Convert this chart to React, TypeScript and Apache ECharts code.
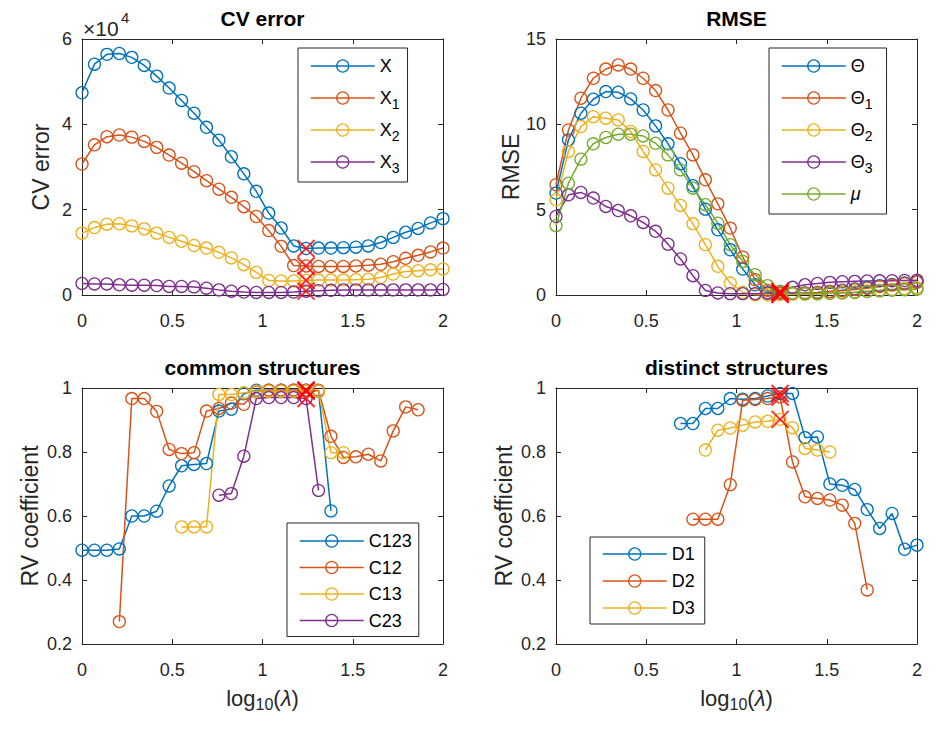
import React, { useEffect, useRef } from "react";
import * as echarts from "echarts";

const FONT = "'Liberation Sans', Arial, Helvetica, sans-serif";
const AXIS_COLOR = "#262626";
const BLUE = "#0072BD";
const ORANGE = "#D95319";
const YELLOW = "#EDB120";
const PURPLE = "#7E2F8E";
const GREEN = "#77AC30";
const MARK_RED = "#FF0000";

// log10(lambda) grid shared by every panel
const logLambda = [
  0, 0.069, 0.1379, 0.2069, 0.2759, 0.3448, 0.4138, 0.4828, 0.5517, 0.6207,
  0.6897, 0.7586, 0.8276, 0.8966, 0.9655, 1.0345, 1.1034, 1.1724, 1.2414, 1.3103,
  1.3793, 1.4483, 1.5172, 1.5862, 1.6552, 1.7241, 1.7931, 1.8621, 1.931, 2,
];
// index of the chosen lambda (red crosses)
const selectedIdx = 18;

// CV error
const cvX = [
  47400, 54100, 56400, 56600, 55700, 53800, 51300, 48500, 45600, 42600,
  39300, 36300, 32400, 28400, 24300, 19200, 15700, 11500, 10900, 11000,
  11000, 11100, 11200, 11500, 12300, 13500, 14700, 15600, 16900, 17900,
];
const cvX1 = [
  30700, 35200, 37100, 37500, 37000, 36000, 34600, 32800, 30900, 28900,
  26800, 24800, 22900, 20700, 18400, 15100, 11400, 6900, 6800, 6700,
  6700, 6700, 6800, 7000, 7200, 7800, 8600, 9300, 10100, 11000,
];
const cvX2 = [
  14500, 15800, 16600, 16700, 16200, 15500, 14500, 13500, 12600, 11600,
  11000, 10000, 8700, 7100, 5300, 3400, 3300, 3300, 3400, 3500,
  3500, 3500, 3600, 3700, 4100, 4900, 5500, 5700, 5900, 6100,
];
const cvX3 = [
  2700, 2600, 2600, 2400, 2300, 2300, 2200, 2000, 2000, 1900,
  1600, 1200, 900, 700, 600, 600, 600, 700, 900, 1000,
  1100, 1200, 1200, 1200, 1200, 1200, 1200, 1200, 1200, 1300,
];

// RMSE
const rmseTheta = [
  5.97, 9.09, 10.65, 11.47, 11.92, 11.88, 11.49, 10.84, 9.91, 8.86,
  7.69, 6.4, 5.03, 3.82, 2.65, 1.52, 0.6, 0.12, 0.08, 0.1,
  0.12, 0.15, 0.2, 0.28, 0.36, 0.45, 0.55, 0.62, 0.7, 0.78,
];
const rmseTheta1 = [
  6.46, 9.67, 11.53, 12.7, 13.24, 13.48, 13.24, 12.7, 11.98, 10.84,
  9.48, 8.21, 6.75, 5.34, 3.92, 2.22, 0.9, 0.27, 0.12, 0.1,
  0.12, 0.15, 0.2, 0.25, 0.32, 0.4, 0.5, 0.58, 0.66, 0.75,
];
const rmseTheta2 = [
  5.58, 8.41, 9.87, 10.45, 10.36, 10.26, 9.58, 8.41, 7.33, 6.26,
  5.25, 4.17, 2.95, 1.68, 0.7, 0.16, 0.02, 0.02, 0.03, 0.05,
  0.05, 0.07, 0.1, 0.14, 0.18, 0.23, 0.28, 0.33, 0.38, 0.43,
];
const rmseTheta3 = [
  4.6, 5.87, 6.01, 5.68, 5.19, 4.95, 4.64, 4.25, 3.73, 2.98,
  2.11, 1.13, 0.27, 0.12, 0.08, 0.08, 0.08, 0.12, 0.2, 0.45,
  0.6, 0.68, 0.74, 0.78, 0.8, 0.82, 0.83, 0.84, 0.85, 0.86,
];
const rmseMu = [
  4.06, 6.55, 7.96, 8.86, 9.23, 9.42, 9.42, 9.32, 8.89, 8.21,
  7.33, 6.26, 5.29, 4.21, 2.95, 1.97, 1.19, 0.55, 0.2, 0.1,
  0.08, 0.08, 0.1, 0.12, 0.15, 0.2, 0.24, 0.28, 0.31, 0.34,
];

// RV coefficients, common structures (null = component not estimated)
const rvC123 = [
  0.493, 0.493, 0.493, 0.497, 0.6, 0.6, 0.615, 0.694, 0.757, 0.761,
  0.764, 0.928, 0.934, 0.982, 0.993, 0.993, 0.993, 0.993, 0.993, 0.99,
  0.616, null, null, null, null, null, null, null, null, null,
];
const rvC12 = [
  null, null, null, 0.27, 0.967, 0.967, 0.927, 0.808, 0.795, 0.798,
  0.928, 0.936, 0.953, 0.949, 0.988, 0.993, 0.993, 0.993, 0.993, 0.993,
  0.849, 0.783, 0.785, 0.793, 0.772, 0.866, 0.941, 0.932, null, null,
];
const rvC13 = [
  null, null, null, null, null, null, null, null, 0.566, 0.566,
  0.566, 0.98, 0.98, 0.985, 0.99, 0.99, 0.99, 0.99, 0.99, 0.99,
  0.798, 0.798, null, null, null, null, null, null, null, null,
];
const rvC23 = [
  null, null, null, null, null, null, null, null, null, null,
  null, 0.665, 0.67, 0.787, 0.967, 0.97, 0.97, 0.97, 0.967, 0.68,
  null, null, null, null, null, null, null, null, null, null,
];

// RV coefficients, distinct structures
const rvD1 = [
  null, null, null, null, null, null, null, null, null, null,
  0.889, 0.889, 0.936, 0.936, 0.967, 0.965, 0.967, 0.975, 0.983, 0.983,
  0.845, 0.847, 0.7, 0.696, 0.683, 0.62, 0.561, 0.608, 0.496, 0.509,
];
const rvD2 = [
  null, null, null, null, null, null, null, null, null, null,
  null, 0.59, 0.59, 0.59, 0.698, 0.962, 0.964, 0.967, 0.972, 0.769,
  0.66, 0.655, 0.65, 0.634, 0.577, 0.369, null, null, null, null,
];
const rvD3 = [
  null, null, null, null, null, null, null, null, null, null,
  null, null, 0.806, 0.868, 0.875, 0.884, 0.894, 0.896, 0.902, 0.876,
  0.811, 0.806, 0.8, null, null, null, null, null, null, null,
];

type SeriesDef = { name: string; values: (number | null)[]; color: string };
type PanelDef = {
  title: string;
  yName: string;
  yMin: number;
  yMax: number;
  yInterval: number;
  yFormat?: (v: number) => string;
  xName?: boolean;
  yNameGap: number;
  series: SeriesDef[];
};

const panels: PanelDef[] = [
  {
    title: "CV error",
    yName: "CV error",
    yMin: 0,
    yMax: 60000,
    yInterval: 20000,
    yFormat: (v) => String(v / 10000),
    yNameGap: 30,
    series: [
      { name: "X", values: cvX, color: BLUE },
      { name: "X1", values: cvX1, color: ORANGE },
      { name: "X2", values: cvX2, color: YELLOW },
      { name: "X3", values: cvX3, color: PURPLE },
    ],
  },
  {
    title: "RMSE",
    yName: "RMSE",
    yMin: 0,
    yMax: 15,
    yInterval: 5,
    yNameGap: 34,
    series: [
      { name: "Θ", values: rmseTheta, color: BLUE },
      { name: "Θ1", values: rmseTheta1, color: ORANGE },
      { name: "Θ2", values: rmseTheta2, color: YELLOW },
      { name: "Θ3", values: rmseTheta3, color: PURPLE },
      { name: "μ", values: rmseMu, color: GREEN },
    ],
  },
  {
    title: "common structures",
    yName: "RV coefficient",
    yMin: 0.2,
    yMax: 1,
    yInterval: 0.2,
    xName: true,
    yNameGap: 41,
    series: [
      { name: "C123", values: rvC123, color: BLUE },
      { name: "C12", values: rvC12, color: ORANGE },
      { name: "C13", values: rvC13, color: YELLOW },
      { name: "C23", values: rvC23, color: PURPLE },
    ],
  },
  {
    title: "distinct structures",
    yName: "RV coefficient",
    yMin: 0.2,
    yMax: 1,
    yInterval: 0.2,
    xName: true,
    yNameGap: 41,
    series: [
      { name: "D1", values: rvD1, color: BLUE },
      { name: "D2", values: rvD2, color: ORANGE },
      { name: "D3", values: rvD3, color: YELLOW },
    ],
  },
];

// plot-area placement of the 2x2 layout
const GRIDS = [
  { left: 82, top: 39 },
  { left: 556, top: 39 },
  { left: 82, top: 388 },
  { left: 556, top: 388 },
];
const GRID_W = 361;
const GRID_H = 256;

// legend boxes
const LEGENDS = [
  { left: 298, top: 48, padding: [5, 8, 7, 12], itemGap: 6, lineHeight: 26 },
  { left: 769, top: 48, padding: [5, 14, 7, 12], itemGap: 6, lineHeight: 26 },
  { left: 287, top: 523, padding: [8, 7, 6, 12], itemGap: 6.5, lineHeight: 20 },
  { left: 590, top: 537, padding: [7, 10, 6, 12], itemGap: 7, lineHeight: 20 },
];

const subscriptLabel = (name: string) => {
  if (name === "μ") return "{it|μ}";
  const m = name.match(/^(\D+)(\d)$/);
  return m ? `${m[1]}{sub|${m[2]}}` : name;
};

function buildOption() {
  const grid: any[] = [];
  const xAxis: any[] = [];
  const yAxis: any[] = [];
  const series: any[] = [];
  const legend: any[] = [];
  const title: any[] = [];

  const axisLine = { show: true, onZero: false, lineStyle: { color: AXIS_COLOR, width: 1 } };
  const axisTick = { show: true, inside: true, length: 5, lineStyle: { color: AXIS_COLOR, width: 1 } };
  const tickLabel = { color: AXIS_COLOR, fontSize: 18, fontFamily: FONT };

  panels.forEach((p, gi) => {
    const g = GRIDS[gi];
    grid.push({ left: g.left, top: g.top, width: GRID_W, height: GRID_H });

    const baseX = {
      type: "value",
      gridIndex: gi,
      min: 0,
      max: 2,
      interval: 0.5,
      axisLine,
      axisTick,
      splitLine: { show: false },
    };
    xAxis.push({
      ...baseX,
      position: "bottom",
      axisLabel: { ...tickLabel, margin: 17 },
      ...(p.xName
        ? {
            name: "log{sub|10}({it|λ})",
            nameLocation: "middle",
            nameGap: 40,
            nameTextStyle: {
              color: AXIS_COLOR,
              fontSize: 22,
              lineHeight: 28,
              fontFamily: FONT,
              rich: {
                sub: {
                  fontSize: 16,
                  lineHeight: 2,
                  verticalAlign: "bottom",
                  fontFamily: FONT,
                  color: AXIS_COLOR,
                },
                it: {
                  fontSize: 22,
                  lineHeight: 28,
                  fontStyle: "italic",
                  fontFamily: FONT,
                  color: AXIS_COLOR,
                },
              },
            },
          }
        : {}),
    });
    xAxis.push({ ...baseX, position: "top", axisLabel: { show: false } });

    const baseY = {
      type: "value",
      gridIndex: gi,
      min: p.yMin,
      max: p.yMax,
      interval: p.yInterval,
      axisLine,
      axisTick,
      splitLine: { show: false },
    };
    yAxis.push({
      ...baseY,
      position: "left",
      axisLabel: {
        ...tickLabel,
        margin: 10,
        formatter: p.yFormat ? (v: number) => p.yFormat!(v) : undefined,
      },
      name: p.yName,
      nameLocation: "middle",
      nameRotate: 90,
      nameGap: p.yNameGap,
      nameTextStyle: { color: AXIS_COLOR, fontSize: 23, fontFamily: FONT },
    });
    yAxis.push({ ...baseY, position: "right", axisLabel: { show: false } });

    p.series.forEach((s) => {
      series.push({
        type: "line",
        name: s.name,
        xAxisIndex: gi * 2,
        yAxisIndex: gi * 2,
        data: logLambda.map((x, i) => [x, s.values[i] == null ? "-" : s.values[i]]),
        connectNulls: false,
        symbol: "circle",
        symbolSize: 12,
        showSymbol: true,
        showAllSymbol: true,
        lineStyle: { color: s.color, width: 1.5 },
        itemStyle: { color: "rgba(255,255,255,0)", borderColor: s.color, borderWidth: 1.3 },
        emphasis: { disabled: true },
        silent: true,
        z: 2,
      });
    });

    // red crosses at the chosen lambda
    series.push({
      type: "scatter",
      name: `chosen-${gi}`,
      xAxisIndex: gi * 2,
      yAxisIndex: gi * 2,
      data: p.series.map((s) => [logLambda[selectedIdx], s.values[selectedIdx]]),
      symbol: "path://M0,0L10,10M10,0L0,10",
      symbolSize: 17,
      itemStyle: { color: "rgba(0,0,0,0)", borderColor: MARK_RED, borderWidth: 2 },
      emphasis: { disabled: true },
      silent: true,
      z: 4,
    });

    const L = LEGENDS[gi];
    const useRich = gi < 2;
    legend.push({
      orient: "vertical",
      left: L.left,
      top: L.top,
      padding: L.padding,
      itemGap: L.itemGap,
      itemWidth: 64,
      itemHeight: 15,
      backgroundColor: "#fff",
      borderColor: AXIS_COLOR,
      borderWidth: 1,
      borderRadius: 0,
      selectedMode: false,
      z: 10,
      data: p.series.map((s) => ({
        name: s.name,
        itemStyle: { color: "rgba(255,255,255,0)", borderColor: s.color, borderWidth: 1.3 },
        lineStyle: { color: s.color, width: 1.5 },
      })),
      formatter: useRich ? subscriptLabel : undefined,
      textStyle: {
        color: "#000",
        fontSize: 18,
        fontFamily: FONT,
        lineHeight: L.lineHeight,
        rich: {
          sub: { fontSize: 14, lineHeight: 6, verticalAlign: "bottom", fontFamily: FONT, color: "#000" },
          it: { fontSize: 18, fontStyle: "italic", fontFamily: FONT, color: "#000", lineHeight: L.lineHeight },
        },
      },
    });

    title.push({
      text: p.title,
      left: g.left + GRID_W / 2,
      top: g.top - 31,
      textAlign: "center",
      padding: 0,
      textStyle: { color: "#000", fontSize: 21, fontWeight: "bold", fontFamily: FONT },
    });
  });

  // exponent of the CV error axis: "×10" with a raised "4"
  title.push({
    text: "×10",
    left: 83,
    top: 18,
    padding: 0,
    textStyle: { color: AXIS_COLOR, fontSize: 21, fontWeight: "normal", fontFamily: FONT },
  });
  title.push({
    text: "4",
    left: 121,
    top: 10,
    padding: 0,
    textStyle: { color: AXIS_COLOR, fontSize: 15, fontWeight: "normal", fontFamily: FONT },
  });

  return {
    animation: false,
    backgroundColor: "#fff",
    title,
    grid,
    xAxis,
    yAxis,
    legend,
    series,
  };
}

export default function App() {
  const ref = useRef<HTMLDivElement>(null);
  useEffect(() => {
    if (!ref.current) return;
    const chart = echarts.init(ref.current, undefined, { renderer: "svg" });
    chart.setOption(buildOption() as any);
    return () => chart.dispose();
  }, []);
  return (
    <div
      ref={ref}
      style={{ position: "absolute", left: 0, top: 0, width: 936, height: 734, background: "#fff" }}
    />
  );
}
